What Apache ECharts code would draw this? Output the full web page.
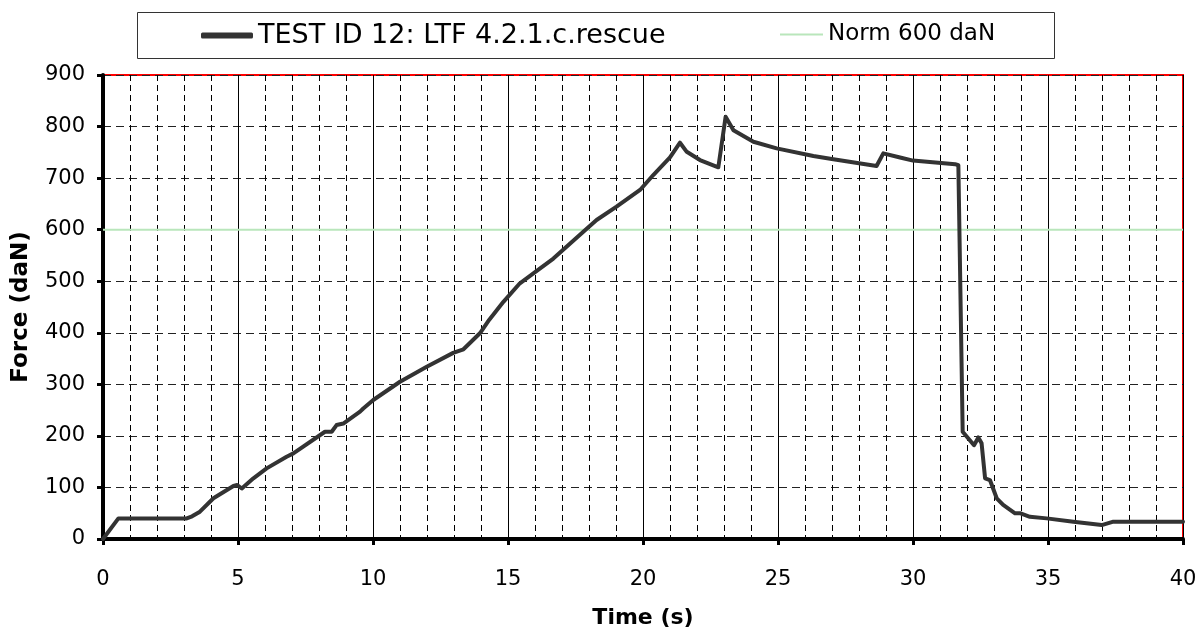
<!DOCTYPE html>
<html>
<head>
<meta charset="utf-8">
<script src="https://cdn.jsdelivr.net/npm/echarts@6/dist/echarts.min.js"></script>
<style>
html,body{margin:0;padding:0;background:#fff;}
#chart{width:1204px;height:632px;}
</style>
</head>
<body>
<div id="chart"></div>
<script>
const seriesName = 'TEST ID 12: LTF 4.2.1.c.rescue';
const normName = 'Norm 600 daN';
const times = [0,0.57,3.1,3.3,3.59,4.09,4.83,4.97,5.14,5.57,6.06,6.8,7.05,8.22,8.47,8.65,8.9,9.52,9.64,10.01,11,11.99,12.97,13.35,13.96,14.3,14.83,15.44,15.94,16.68,17.79,18.28,19.02,19.89,20.38,21.0,21.37,21.62,22.11,22.79,23.06,23.35,24.09,24.95,26.31,27.05,28.65,28.9,29.52,30.0,31.56,31.68,31.84,32.26,32.42,32.54,32.67,32.85,33.1,33.34,33.78,33.96,34.33,34.95,35.94,36.99,37.42,38.2,39.95,40];
const forces = [0,40,40,44,53,79,102.8,104.7,98,117.7,137,159.6,166,208,208,221,224,247,253,269.6,305,334,361,368,399,425,460,496,515,544,596,618.7,644.6,677,706,740,768.7,751,735,721,819,793,770.6,757.7,742.8,736.4,723.4,748,740,734,727,725,208,182,197,185.6,117.7,114.4,79,66,49.8,50,43,40,33.6,27,33.6,33.6,33.6,33.6];
const normTimes = [0, 40];
const normValues = [600, 600];
const xTicks = [0,5,10,15,20,25,30,35,40];
const yTicks = [0,100,200,300,400,500,600,700,800,900];

const font = 'DejaVu Sans';
const chart = echarts.init(document.getElementById('chart'));
chart.setOption({
  animation: false,
  backgroundColor: '#fff',
  graphic: [{
    type: 'rect', left: 135, top: 10, z: 0,
    shape: {width: 917, height: 46},
    style: {fill: 'none', stroke: '#333', lineWidth: 1}
  }],
  legend: [{
    data: [seriesName], left: 196, top: 17, itemWidth: 52, itemHeight: 6, icon: 'roundRect',
    textStyle: {fontFamily: font, fontSize: 27, color: '#000'}
  }, {
    data: [normName], left: 775, top: 18, itemWidth: 43, itemHeight: 2, icon: 'rect',
    textStyle: {fontFamily: font, fontSize: 23, color: '#000'}
  }],
  grid: {left: 103, right: 21, top: 75, bottom: 93, outerBoundsMode: 'none', containLabel: false,
    show: true, borderColor: '#ff0000', borderWidth: 2, backgroundColor: 'transparent'},
  xAxis: {
    type: 'value', min: xTicks[0], max: xTicks[xTicks.length-1], interval: 5,
    name: 'Time (s)', nameLocation: 'middle', nameGap: 68, nameMoveOverlap: false,
    nameTextStyle: {fontFamily: font, fontSize: 22, fontWeight: 'bold', color: '#000'},
    axisLine: {lineStyle: {color: '#000', width: 4}},
    axisTick: {show: true, length: 6, lineStyle: {color: '#000', width: 3}},
    axisLabel: {fontFamily: font, fontSize: 21, color: '#000', margin: 30},
    splitLine: {show: true, lineStyle: {color: '#000', width: 1, type: 'solid'}},
    minorTick: {show: false, splitNumber: 5},
    minorSplitLine: {show: true, lineStyle: {color: '#000', width: 1, type: [6, 4]}}
  },
  yAxis: {
    type: 'value', min: yTicks[0], max: yTicks[yTicks.length-1], interval: 100,
    name: 'Force (daN)', nameLocation: 'middle', nameGap: 70, nameRotate: 90, nameMoveOverlap: false,
    nameTextStyle: {fontFamily: font, fontSize: 23, fontWeight: 'bold', color: '#000'},
    axisLine: {show: true, lineStyle: {color: '#000', width: 4}},
    axisTick: {show: true, length: 6, lineStyle: {color: '#000', width: 3}},
    axisLabel: {fontFamily: font, fontSize: 21, color: '#000', margin: 18},
    splitLine: {show: true, lineStyle: {color: '#222', width: 1, type: [8, 5]}}
  },
  series: [{
    name: seriesName, type: 'line', symbol: 'none', z: 5,
    data: times.map((t, i) => [t, forces[i]]),
    lineStyle: {color: '#333333', width: 4, join: 'round', cap: 'round'},
    itemStyle: {color: '#333333'}
  }, {
    name: normName, type: 'line', symbol: 'none', z: 4,
    data: normTimes.map((t, i) => [t, normValues[i]]),
    lineStyle: {color: '#b9e6bb', width: 2},
    itemStyle: {color: '#b9e6bb'}
  }]
});
</script>
</body>
</html>
